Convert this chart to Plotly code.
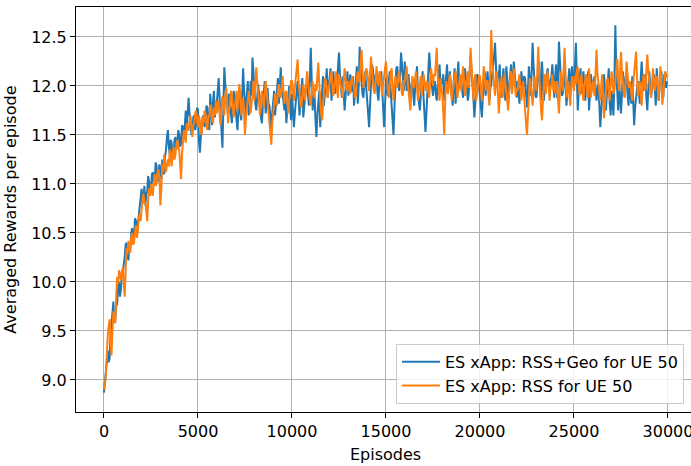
import plotly.graph_objects as go

episodes = list(range(0, 30000, 50))

rss_geo = [
    8.87, 8.98, 9.12, 9.25, 9.30, 9.18, 9.22, 9.45, 9.55, 9.70, 9.80, 9.58, 9.62, 9.75, 9.78, 9.95, 10.00, 9.85, 9.92, 10.08,
    10.05, 10.18, 10.25, 10.38, 10.40, 10.28, 10.22, 10.40, 10.35, 10.50, 10.55, 10.42, 10.45, 10.65, 10.62, 10.50, 10.58, 10.72, 10.75, 10.88,
    10.95, 10.80, 10.85, 10.98, 10.78, 10.90, 10.92, 11.08, 11.02, 10.88, 10.95, 11.10, 11.12, 10.98, 11.05, 11.22, 11.18, 11.02, 11.08, 11.20,
    11.15, 11.05, 11.25, 11.12, 11.10, 11.28, 11.35, 11.48, 11.55, 11.38, 11.30, 11.45, 11.42, 11.25, 11.28, 11.45, 11.48, 11.35, 11.40, 11.55,
    11.50, 11.38, 11.42, 11.60, 11.58, 11.45, 11.62, 11.75, 11.55, 11.70, 11.88, 11.72, 11.65, 11.50, 11.52, 11.68, 11.70, 11.55, 11.60, 11.78,
    11.75, 11.45, 11.32, 11.48, 11.55, 11.68, 11.70, 11.58, 11.62, 11.80, 11.78, 11.62, 11.55, 11.92, 11.72, 11.60, 11.85, 11.95, 11.68, 11.80,
    11.82, 11.95, 12.08, 11.88, 11.75, 11.55, 11.37, 11.80, 12.19, 12.02, 11.90, 11.78, 11.70, 11.92, 11.85, 11.72, 11.62, 11.80, 11.95, 11.82,
    11.78, 11.65, 11.55, 11.75, 11.88, 11.72, 11.65, 11.90, 12.18, 11.95, 11.80, 11.70, 11.92, 12.05, 11.70, 11.82, 12.05, 11.90, 12.29, 12.10,
    11.95, 11.82, 11.75, 11.90, 12.02, 11.92, 11.85, 11.68, 11.62, 11.80, 11.90, 12.05, 11.72, 11.85, 11.98, 11.82, 11.80, 11.68, 11.55, 11.72,
    11.85, 11.95, 11.70, 11.88, 11.95, 12.08, 11.82, 11.98, 12.19, 12.00, 11.90, 11.78, 11.75, 11.88, 11.62, 11.75, 11.88, 12.00, 11.78, 11.65,
    11.92, 11.75, 11.58, 11.72, 11.85, 11.98, 12.05, 11.88, 11.70, 11.85, 11.95, 12.08, 11.68, 11.80, 11.88, 12.00, 12.02, 11.90, 11.80, 12.10,
    12.39, 12.05, 11.75, 11.92, 11.90, 11.65, 11.48, 11.70, 11.85, 11.95, 11.58, 11.80, 11.95, 12.10, 11.80, 11.92, 12.08, 12.18, 11.88, 11.98,
    12.05, 12.18, 11.85, 11.98, 12.15, 12.02, 11.92, 12.10, 12.02, 12.20, 12.34, 12.12, 11.98, 11.88, 12.10, 11.92, 11.75, 11.90, 12.05, 12.15,
    11.90, 12.02, 12.12, 11.95, 11.95, 12.10, 11.80, 11.92, 12.08, 12.20, 11.82, 12.00, 12.40, 12.15, 12.05, 11.92, 11.88, 12.05, 12.15, 11.98,
    11.88, 11.72, 11.58, 11.85, 12.05, 12.22, 12.18, 12.00, 11.95, 12.12, 12.10, 11.92, 11.85, 12.05, 12.02, 12.15, 11.92, 11.75, 11.58, 11.80,
    12.08, 11.95, 11.90, 12.05, 12.15, 11.95, 11.82, 11.65, 11.50, 11.78, 12.05, 12.18, 12.20, 12.02, 11.95, 12.10, 12.34, 12.22, 12.10, 11.95,
    12.25, 12.08, 11.95, 12.05, 12.12, 11.98, 11.85, 12.00, 12.05, 11.92, 11.80, 11.98, 12.10, 12.20, 11.92, 11.82, 11.75, 11.90, 12.02, 12.15,
    11.88, 11.70, 11.53, 11.72, 11.95, 12.15, 12.34, 12.18, 12.08, 11.95, 11.90, 12.02, 12.05, 11.92, 11.85, 12.00, 12.12, 12.22, 11.98, 12.08,
    12.02, 12.12, 11.85, 11.98, 12.10, 12.22, 11.95, 12.05, 12.15, 12.00, 11.90, 11.80, 12.05, 12.18, 11.82, 11.95, 12.12, 12.25, 11.98, 12.05,
    12.08, 11.95, 11.88, 12.02, 12.18, 12.08, 12.00, 11.85, 11.92, 12.15, 12.32, 12.15, 12.05, 11.88, 11.68, 11.82, 11.95, 12.12, 12.10, 11.98,
    11.95, 11.80, 11.68, 11.88, 12.05, 12.15, 11.90, 12.02, 12.15, 12.00, 11.85, 11.98, 12.02, 12.12, 12.20, 12.30, 12.44, 12.10, 11.98, 12.08,
    12.10, 12.22, 11.88, 11.95, 12.05, 12.18, 11.95, 11.85, 12.20, 12.08, 11.82, 11.95, 12.10, 12.22, 11.92, 12.05, 12.25, 12.12, 12.00, 11.88,
    12.05, 11.92, 11.82, 11.98, 12.15, 12.05, 11.95, 12.10, 12.08, 11.92, 11.78, 11.95, 12.20, 12.05, 11.90, 12.15, 12.44, 12.20, 12.02, 11.90,
    11.88, 12.02, 12.12, 12.25, 11.95, 11.85, 12.25, 12.10, 11.85, 11.98, 12.05, 12.15, 12.18, 12.02, 11.92, 12.05, 12.10, 12.22, 12.00, 11.88,
    12.10, 12.22, 11.88, 12.05, 12.45, 12.25, 12.02, 11.90, 11.92, 12.08, 12.15, 11.98, 11.80, 11.95, 12.05, 12.18, 11.95, 12.10, 12.20, 12.05,
    12.00, 12.20, 12.44, 12.10, 11.75, 11.92, 12.08, 12.18, 11.92, 12.05, 12.15, 12.02, 11.85, 12.00, 12.05, 12.15, 11.75, 11.92, 12.12, 12.02,
    11.95, 12.05, 12.10, 11.95, 11.85, 11.98, 12.02, 11.80, 11.58, 11.75, 11.90, 12.05, 12.12, 11.95, 11.75, 11.92, 12.05, 12.18, 11.82, 11.70,
    11.95, 11.82, 11.70, 12.05, 12.62, 12.15, 11.88, 11.75, 12.05, 11.92, 11.72, 11.90, 12.15, 12.02, 11.90, 12.10, 12.08, 11.92, 11.80, 11.98,
    11.95, 11.82, 12.10, 11.85, 11.60, 11.78, 11.88, 12.00, 12.05, 11.95, 11.82, 12.08, 12.25, 12.05, 11.95, 12.12, 12.08, 11.88, 11.75, 11.95,
    12.15, 12.02, 11.88, 11.98, 12.02, 12.12, 11.92, 11.80, 12.18, 12.05, 11.85, 11.98, 12.05, 12.15, 11.95, 11.88, 12.12, 12.02, 11.98, 12.05,
]

rss = [
    8.90, 8.95, 9.05, 9.30, 9.45, 9.55, 9.62, 9.40, 9.25, 9.50, 9.70, 9.62, 9.58, 9.85, 10.05, 9.98, 10.12, 10.08, 10.02, 10.10,
    10.15, 9.98, 9.85, 10.10, 10.35, 10.28, 10.42, 10.35, 10.30, 10.45, 10.50, 10.38, 10.40, 10.52, 10.58, 10.45, 10.52, 10.65, 10.70, 10.62,
    10.78, 10.85, 10.90, 10.80, 10.82, 10.70, 10.62, 10.85, 10.95, 10.88, 11.00, 10.92, 10.88, 11.02, 11.10, 10.98, 11.02, 11.12, 11.15, 11.05,
    10.78, 10.95, 11.20, 11.12, 11.30, 11.22, 11.12, 11.20, 11.25, 11.18, 11.35, 11.28, 11.18, 11.30, 11.38, 11.25, 11.30, 11.40, 11.45, 11.38,
    11.35, 11.20, 11.05, 11.30, 11.42, 11.55, 11.50, 11.42, 11.62, 11.55, 11.55, 11.65, 11.70, 11.58, 11.48, 11.60, 11.62, 11.72, 11.75, 11.65,
    11.58, 11.70, 11.65, 11.55, 11.50, 11.68, 11.62, 11.75, 11.72, 11.60, 11.55, 11.70, 11.68, 11.80, 11.80, 11.65, 11.62, 11.78, 11.70, 11.85,
    11.72, 11.80, 11.85, 11.70, 11.60, 11.78, 11.90, 11.82, 11.70, 11.88, 11.98, 11.85, 11.62, 11.75, 11.80, 11.95, 11.92, 11.78, 11.68, 11.80,
    11.85, 11.95, 11.75, 11.88, 12.02, 11.90, 11.70, 11.82, 11.88, 11.72, 11.50, 11.68, 11.78, 11.90, 11.95, 11.85, 11.72, 11.82, 11.90, 12.05,
    11.85, 12.02, 12.19, 12.05, 11.92, 11.80, 11.70, 11.85, 11.95, 11.88, 11.78, 11.92, 12.05, 11.95, 11.85, 11.72, 11.65, 11.52, 11.40, 11.62,
    11.75, 11.88, 11.92, 11.82, 11.80, 11.95, 12.02, 11.90, 11.88, 11.98, 12.10, 11.95, 11.82, 11.92, 11.95, 11.85, 11.72, 11.85, 11.98, 12.05,
    12.05, 11.95, 11.85, 11.98, 12.10, 12.18, 12.27, 12.05, 11.90, 11.82, 11.78, 11.92, 12.02, 11.95, 11.85, 12.00, 12.15, 12.05, 11.92, 11.85,
    11.80, 11.95, 12.05, 11.92, 11.88, 12.02, 11.95, 12.10, 12.24, 12.02, 11.82, 11.72, 11.65, 11.85, 11.95, 12.08, 12.05, 11.95, 11.88, 12.00,
    12.02, 12.10, 12.15, 12.00, 11.90, 11.98, 12.08, 12.15, 11.95, 11.88, 12.12, 12.05, 12.00, 11.92, 11.88, 12.05, 12.18, 12.08, 11.95, 12.02,
    12.05, 11.95, 11.92, 12.05, 12.10, 12.02, 12.00, 11.88, 11.90, 12.08, 12.15, 12.05, 12.05, 12.22, 12.37, 12.15, 11.98, 12.05, 12.10, 12.18,
    12.15, 12.05, 11.95, 12.12, 12.30, 12.18, 12.05, 11.95, 11.92, 12.08, 12.20, 12.05, 12.00, 12.15, 12.12, 12.00, 11.90, 12.02, 12.08, 12.18,
    12.25, 12.08, 11.95, 11.88, 12.05, 12.12, 12.18, 12.02, 11.85, 11.98, 12.10, 12.02, 11.98, 12.08, 12.15, 12.05, 12.02, 11.92, 11.90, 12.05,
    12.05, 12.12, 12.20, 12.05, 11.92, 11.82, 11.75, 11.95, 12.10, 12.05, 11.98, 12.08, 12.15, 12.00, 11.85, 11.95, 12.02, 12.10, 11.90, 12.00,
    12.12, 12.05, 11.95, 12.02, 12.05, 11.95, 11.88, 12.05, 12.18, 12.08, 12.00, 12.12, 12.10, 12.22, 12.39, 12.10, 11.92, 11.85, 12.08, 12.00,
    11.90, 11.72, 11.50, 11.85, 12.05, 11.98, 11.92, 12.05, 12.12, 11.98, 11.85, 11.95, 12.00, 12.10, 12.15, 12.02, 11.88, 11.95, 12.05, 12.12,
    11.95, 12.08, 12.20, 12.05, 11.90, 11.98, 12.08, 12.15, 11.98, 12.12, 12.39, 12.15, 11.92, 11.85, 12.05, 12.12, 11.85, 11.98, 12.02, 12.10,
    12.10, 11.98, 11.85, 12.02, 12.20, 12.08, 11.95, 12.05, 12.05, 11.92, 11.80, 12.20, 12.57, 12.25, 12.10, 11.98, 11.90, 12.05, 12.15, 11.95,
    11.72, 11.88, 12.02, 12.10, 11.88, 11.95, 12.12, 12.02, 11.95, 11.85, 11.75, 11.95, 12.08, 12.15, 11.92, 12.02, 12.18, 12.05, 11.90, 11.98,
    11.95, 12.05, 12.12, 11.98, 11.85, 11.95, 12.05, 11.88, 11.70, 11.62, 11.50, 11.75, 11.92, 12.08, 12.02, 11.90, 11.80, 11.95, 12.10, 12.02,
    11.95, 12.15, 12.40, 12.12, 11.88, 11.75, 11.65, 11.88, 12.05, 12.12, 11.92, 12.05, 12.15, 12.02, 11.85, 11.98, 12.02, 12.12, 11.95, 12.05,
    11.92, 11.98, 12.05, 11.85, 11.72, 11.98, 12.15, 12.02, 11.95, 12.18, 12.39, 12.12, 11.88, 11.95, 12.05, 11.92, 11.80, 11.98, 12.10, 12.02,
    11.95, 12.10, 12.02, 12.15, 12.20, 12.02, 11.90, 12.05, 12.12, 11.95, 11.85, 12.00, 12.05, 12.12, 11.95, 11.88, 12.18, 12.05, 11.88, 11.98,
    12.05, 11.95, 11.90, 12.15, 12.37, 12.12, 12.02, 11.92, 11.85, 12.00, 12.12, 11.90, 11.67, 11.82, 11.95, 12.05, 12.08, 11.95, 11.85, 12.02,
    12.15, 12.05, 11.92, 11.98, 12.05, 12.18, 12.28, 12.10, 11.95, 12.12, 12.35, 12.15, 12.02, 11.92, 11.88, 12.05, 12.25, 12.12, 11.98, 12.05,
    12.02, 11.92, 11.85, 12.02, 12.15, 12.25, 12.35, 12.10, 11.90, 11.98, 12.05, 11.92, 11.80, 11.98, 12.12, 12.02, 11.95, 12.15, 12.32, 12.15,
    12.05, 11.95, 11.88, 12.02, 12.18, 12.05, 11.95, 12.08, 12.10, 11.98, 11.85, 12.05, 12.20, 12.02, 11.81, 11.92, 12.05, 12.15, 12.12, 12.08,
]

series_names = ["ES xApp: RSS+Geo for UE 50", "ES xApp: RSS for UE 50"]
x_ticks = [0, 5000, 10000, 15000, 20000, 25000, 30000]
y_ticks = [9.0, 9.5, 10.0, 10.5, 11.0, 11.5, 12.0, 12.5]
x_label = "Episodes"
y_label = "Averaged Rewards per episode"

FONT = "DejaVu Sans"
FS = 16
fig = go.Figure()
fig.add_trace(go.Scatter(x=episodes, y=rss_geo, mode="lines", name=series_names[0],
                         line=dict(color="#1f77b4", width=2)))
fig.add_trace(go.Scatter(x=episodes, y=rss, mode="lines", name=series_names[1],
                         line=dict(color="#ff7f0e", width=2)))

axis_common = dict(showline=True, linecolor="black", linewidth=1, mirror=True,
                   ticks="outside", ticklen=5, tickwidth=1, tickcolor="black",
                   showgrid=True, gridcolor="#b0b0b0", gridwidth=1, zeroline=False,
                   automargin=False, ticklabeloverflow="allow",
                   tickfont=dict(family=FONT, size=FS, color="black"))

fig.update_layout(
    width=691, height=466,
    margin=dict(l=76, r=0, t=7, b=54, autoexpand=False),
    paper_bgcolor="white", plot_bgcolor="white",
    font=dict(family=FONT, size=FS, color="black"),
    xaxis=dict(range=[-1489, 31224], tickvals=x_ticks, tickformat="d", **axis_common),
    yaxis=dict(range=[8.673, 12.806], tickvals=y_ticks, tickformat=".1f", **axis_common),
    showlegend=True,
    legend=dict(x=0.9886, y=0.02, xanchor="right", yanchor="bottom",
                bgcolor="rgba(255,255,255,0.8)", bordercolor="#cccccc", borderwidth=1,
                itemwidth=38, font=dict(family=FONT, size=FS, color="black"), tracegroupgap=0),
    annotations=[
        dict(text=x_label, xref="paper", yref="paper", x=0.504, y=-0.106,
             xanchor="center", yanchor="middle", showarrow=False,
             font=dict(family=FONT, size=FS, color="black")),
        dict(text=y_label, xref="paper", yref="paper", x=-0.107, y=0.5,
             xanchor="center", yanchor="middle", showarrow=False, textangle=-90,
             font=dict(family=FONT, size=FS, color="black")),
    ],
)

fig.write_html("out.html", config={"displayModeBar": False},
               post_script="document.body.style.margin='0';document.body.style.padding='0';")
